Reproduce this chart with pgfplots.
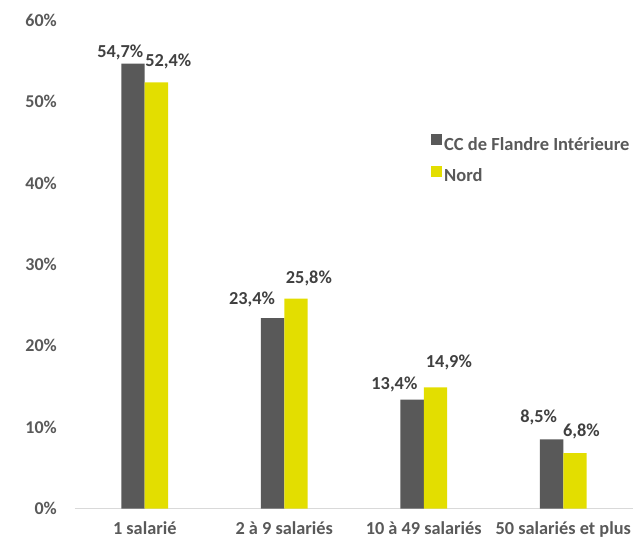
\documentclass[border=0pt]{standalone}
\usepackage{pgfplots}
\pgfplotsset{compat=1.18}
\usepackage{pgfplotstable}
\usepackage{fontspec}
\setmainfont{Carlito}
\definecolor{cgray}{HTML}{595959}
\definecolor{cyel}{HTML}{E3DE00}
\definecolor{lblgray}{HTML}{404040}
\definecolor{axgray}{HTML}{D9D9D9}

\pgfplotstableread{
x y dx dy
0 54.7 -12.8 6
1 23.4 -20.6 14
2 13.4 -17.7 10.5
3 8.5 -13 17.3
}\cctable
\pgfplotstableread{
x y dx dy
0 52.4 11.8 16.3
1 25.8 13 15
2 14.9 13.5 20
3 6.8 6.5 16.7
}\nordtable

\begin{document}
\begin{tikzpicture}
\useasboundingbox (-75bp,-31.5bp) rectangle (558bp,508.5bp);
\begin{axis}[
  at={(0,0)}, anchor=south west,
  scale only axis, width=558bp, height=488bp,
  ybar=0pt, bar width=23.3bp,
  xmin=-0.5, xmax=3.5, ymin=0, ymax=60,
  clip=false,
  xtick={0,1,2,3},
  xticklabels={1 salarié, 2 à 9 salariés, 10 à 49 salariés, 50 salariés et plus},
  ytick={0,10,...,60},
  yticklabel={\pgfmathprintnumber[assume math mode=true]{\tick}\%},
  axis x line*=bottom, axis y line*=left,
  y axis line style={draw=none},
  x axis line style={draw=axgray, line width=1bp},
  major tick length=0pt,
  yticklabel style={anchor=east, inner sep=0pt, xshift=-18bp, font=\fontsize{18bp}{20bp}\selectfont\bfseries, text=cgray},
  xticklabel style={anchor=base, inner sep=0pt, yshift=-26bp, font=\fontsize{18.3bp}{20bp}\selectfont\bfseries, text=cgray},
  legend style={at={(0.638,0.768)}, anchor=north west, draw=none, fill=none, inner sep=0pt,
    font=\fontsize{18.5bp}{20bp}\selectfont\bfseries, text=cgray, row sep=12bp,
    cells={anchor=west, inner xsep=3bp}},
  legend image code/.code={\fill[#1] (0bp,-0.5bp) rectangle (11bp,10.5bp);},
  point meta=y,
  nodes near coords={\pgfmathprintnumber[fixed, fixed zerofill, precision=1, use comma, assume math mode=true]{\pgfplotspointmeta}\%},
]
\addplot[fill=cgray, draw=none,
  visualization depends on={\thisrow{dx} \as \mydx},
  visualization depends on={\thisrow{dy} \as \mydy},
  every node near coord/.append style={anchor=base, inner sep=0pt, xshift=\mydx bp, yshift=\mydy bp, font=\fontsize{18.3bp}{20bp}\selectfont\bfseries, text=lblgray}]
  table[x=x, y=y] {\cctable};
\addplot[fill=cyel, draw=none,
  visualization depends on={\thisrow{dx} \as \mydx},
  visualization depends on={\thisrow{dy} \as \mydy},
  every node near coord/.append style={anchor=base, inner sep=0pt, xshift=\mydx bp, yshift=\mydy bp, font=\fontsize{18.3bp}{20bp}\selectfont\bfseries, text=lblgray}]
  table[x=x, y=y] {\nordtable};
\legend{CC de Flandre Intérieure, Nord}
\end{axis}
\end{tikzpicture}
\end{document}
